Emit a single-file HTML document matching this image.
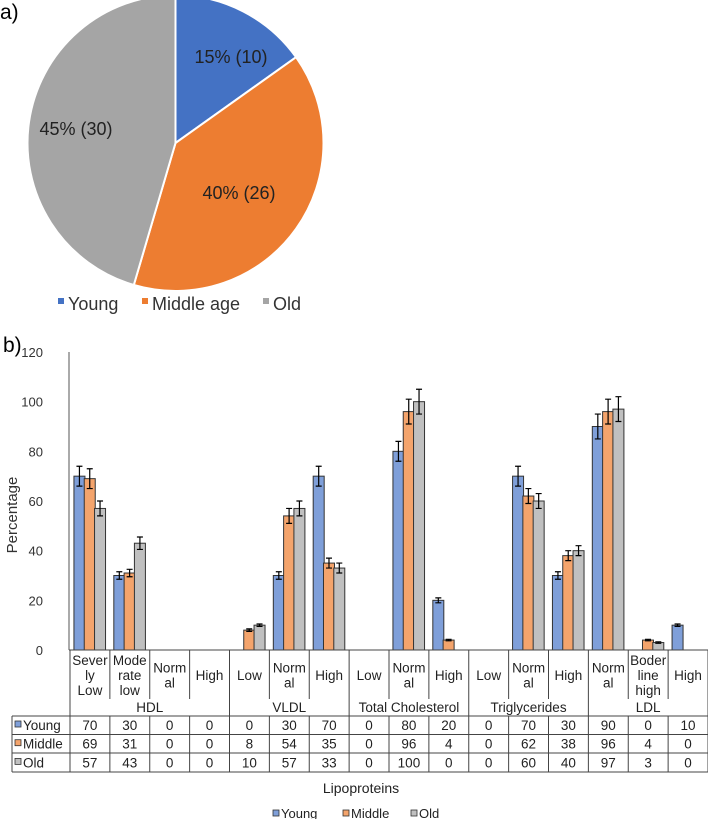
<!DOCTYPE html>
<html><head><meta charset="utf-8"><style>
body{margin:0;background:#fff;}
svg{display:block;font-family:"Liberation Sans",Arial,sans-serif;}
</style></head><body>
<svg id="s" width="708" height="819" viewBox="0 0 708 819">
<text x="0" y="19" font-size="21" fill="#000">a)</text>
<g id="pie"></g>
<g id="pieLegend"></g>
<text x="3" y="352" font-size="21" fill="#000">b)</text>
<g id="bar"></g>
</svg>
<script>
const pieLabels=["Young","Middle age","Old"];
const pieCounts=[10,26,30];
const piePct=["15%","40%","45%"];
const pieColors=["#4472c4","#ed7d31","#a5a5a5"];

const cats=[["Sever","ly","Low"],["Mode","rate","low"],["Norm","al"],["High"],["Low"],["Norm","al"],["High"],["Low"],["Norm","al"],["High"],["Low"],["Norm","al"],["High"],["Norm","al"],["Boder","line","high"],["High"]];
const groups=["HDL","VLDL","Total Cholesterol","Triglycerides","LDL"];
const groupSizes=[4,3,3,3,3];
const seriesNames=["Young","Middle","Old"];
const young=[70,30,0,0,0,30,70,0,80,20,0,70,30,90,0,10];
const middle=[69,31,0,0,8,54,35,0,96,4,0,62,38,96,4,0];
const old=[57,43,0,0,10,57,33,0,100,0,0,60,40,97,3,0];
const errYoung=[4,1.5,0,0,0,1.5,4,0,4,1,0,4,1.5,5,0,0.5];
const errMiddle=[4,1.5,0,0,0.5,3,2,0,5,0.3,0,3,2,5,0.3,0];
const errOld=[3,2.5,0,0,0.5,3,2,0,5,0,0,3,2,5,0.3,0];
const yTicks=[0,20,40,60,80,100,120];

const NS="http://www.w3.org/2000/svg";
function mk(tag,attrs,parent,text){const e=document.createElementNS(NS,tag);for(const k in attrs)e.setAttribute(k,attrs[k]);if(text!==undefined)e.textContent=text;parent.appendChild(e);return e;}

const pie=document.getElementById('pie');
const cx=175.5,cy=143,R=148;
const total=pieCounts.reduce((a,b)=>a+b,0);
let a0=0;
const labelPos=[[231,63],[239,199],[76,135]];
pieCounts.forEach((v,i)=>{
  const a1=a0+v/total*2*Math.PI;
  const x0=cx+R*Math.sin(a0),y0=cy-R*Math.cos(a0),x1=cx+R*Math.sin(a1),y1=cy-R*Math.cos(a1);
  const p=mk('path',{d:`M${cx},${cy} L${x0},${y0} A${R},${R} 0 ${a1-a0>Math.PI?1:0} 1 ${x1},${y1} Z`,fill:pieColors[i],stroke:'#fff','stroke-width':2},pie);
  
  
  a0=a1;
});
pieCounts.forEach((v,i)=>{
  const t=mk('text',{x:labelPos[i][0],y:labelPos[i][1],'font-size':18,'text-anchor':'middle',fill:'#222'},pie,piePct[i]+' ('+v+')');
  
  
});
const pl=document.getElementById('pieLegend');
const plx=[[58,68],[142,152],[263,273]];
pieLabels.forEach((l,i)=>{
  const r=mk('rect',{x:plx[i][0],y:298,width:6,height:6,fill:pieColors[i]},pl);
  
  
  const t=mk('text',{x:plx[i][1],y:310,'font-size':18,fill:'#333'},pl,l);
  
  
});

const g=document.getElementById('bar');
const X0=70,X1=708,Y0=650,Ytop=352;
const colW=(X1-X0)/cats.length;
const yS=v=>Y0-v*(Y0-Ytop)/120;
const bcol=["#7f9fd9","#f4a46c","#c0c0c0"];
const sv=[young,middle,old],se=[errYoung,errMiddle,errOld];
mk('line',{x1:69,y1:Ytop,x2:69,y2:Y0,stroke:'#555'},g);
yTicks.forEach(t=>{
  const e=mk('text',{x:43,y:yS(t)+5,'font-size':13,'text-anchor':'end',fill:'#333'},g,t);
  
  
});
const yt=mk('text',{x:0,y:0,'font-size':15,'text-anchor':'middle',fill:'#333',transform:'translate(17,515) rotate(-90)'},g,'Percentage');


cats.forEach((c,ci)=>{
  const cxm=X0+colW*(ci+0.5);
  sv.forEach((s,si)=>{
    const v=s[ci];
    if(v<=0)return;
    const bx=cxm-16+si*10.3;
    const b=mk('rect',{x:bx,y:yS(v),width:11,height:Y0-yS(v),fill:bcol[si],stroke:'#333','stroke-width':1},g);
    
    
    const e=se[si][ci];
    const ex=bx+5.5;
    const eb=mk('path',{d:`M${ex},${yS(v+e)} V${yS(v-e)} M${ex-3},${yS(v+e)} H${ex+3} M${ex-3},${yS(v-e)} H${ex+3}`,stroke:'#000','stroke-width':1.2,fill:'none'},g);
    
    
  });
  const lh=15,n=c.length,startY=675-(n-1)*lh/2;
  c.forEach((ln,li)=>{
    const t=mk('text',{x:cxm,y:startY+li*lh+5,'font-size':13.5,'text-anchor':'middle',fill:'#222'},g,ln);
    
    
  });
  sv.forEach((s,si)=>{
    const t=mk('text',{x:cxm,y:730+si*18.7,'font-size':13.5,'text-anchor':'middle',fill:'#222'},g,s[ci]);
    
    
  });
});
const L='#444';
mk('line',{x1:69,y1:Y0,x2:708,y2:Y0,stroke:L},g);
[716,734.5,753,772].forEach(y=>mk('line',{x1:12,y1:y,x2:708,y2:y,stroke:L},g));
mk('line',{x1:12,y1:716,x2:12,y2:772,stroke:L},g);
let acc=0;const gb=new Set([0]);
groupSizes.forEach(s=>{acc+=s;gb.add(acc);});
for(let i=0;i<=cats.length;i++){
  const x=X0+colW*i;
  if(gb.has(i)) mk('line',{x1:x,y1:Y0,x2:x,y2:772,stroke:L},g);
  else {mk('line',{x1:x,y1:Y0,x2:x,y2:699,stroke:L},g);mk('line',{x1:x,y1:716,x2:x,y2:772,stroke:L},g);}
}
acc=0;
groups.forEach((gn,i)=>{
  const xm=X0+colW*(acc+groupSizes[i]/2);acc+=groupSizes[i];
  const t=mk('text',{x:xm,y:712,'font-size':13.5,'text-anchor':'middle',fill:'#222'},g,gn);
  
  
});
seriesNames.forEach((n,si)=>{
  const y=725+si*18.7;
  mk('rect',{x:15,y:y-4,width:6,height:6,fill:bcol[si],stroke:'#333','stroke-width':0.8},g);
  const t=mk('text',{x:23,y:y+5,'font-size':13.5,fill:'#222'},g,n);
  
  
});
const xt=mk('text',{x:361,y:793,'font-size':14,'text-anchor':'middle',fill:'#222'},g,'Lipoproteins');


const lgx=[[273,281],[343,351],[411,419]];
seriesNames.forEach((n,si)=>{
  mk('rect',{x:lgx[si][0],y:810,width:6,height:6,fill:bcol[si],stroke:'#333','stroke-width':0.8},g);
  const t=mk('text',{x:lgx[si][1],y:818,'font-size':13,fill:'#222'},g,n);
  
  
});
</script>
</body></html>
